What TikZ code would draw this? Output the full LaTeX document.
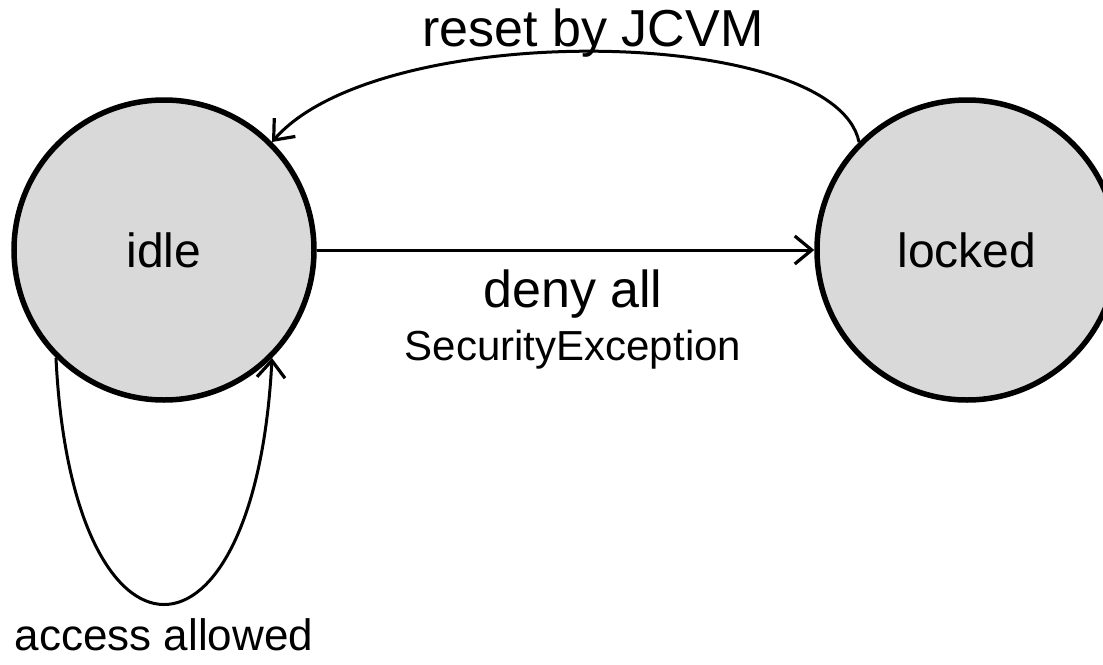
\documentclass[tikz,border=0pt]{standalone}
\usepackage{fontspec}
\setmainfont{Liberation Sans}
\usetikzlibrary{arrows.meta}
\definecolor{StateFill}{RGB}{217,217,217}
\tikzset{
  state/.style={circle,draw=black,line width=5.5pt,fill=StateFill,minimum size=300pt,inner sep=0pt,font=\fontsize{48}{52}\selectfont},
  trans/.style={-{Straight Barb[length=17pt,width=28pt,line width=3.2pt]},line width=3pt,draw=black},
  biglabel/.style={anchor=base,inner sep=0pt,font=\fontsize{52}{56}\selectfont},
  smalllabel/.style={anchor=base,inner sep=0pt,font=\fontsize{42}{46}\selectfont}
}
\begin{document}
\begin{tikzpicture}[x=1pt,y=-1pt]
\useasboundingbox (0,0) rectangle (1103,664);
\clip (0,0) rectangle (1103,664);
\node[state] (idle) at (164,250) {idle};
\node[state] (locked) at (967,250) {locked};
% transitions
\draw[trans] (idle.east) -- (locked.west);
\draw[trans] (locked.135) .. controls (835,25) and (380,18) .. (idle.45);
\draw[trans] (idle.-135) .. controls (72,686) and (255,686) .. (idle.-45);
% labels
\node[biglabel] (resetlbl) at (593,46) {reset by JCVM};
\node[biglabel] (denylbl) at (573,307) {deny all};
\node[smalllabel] (exclbl) at (573,360) {SecurityException};
\node[biglabel,font=\fontsize{44}{48}\selectfont] (accesslbl) at (164,650) {access allowed};
\end{tikzpicture}
\end{document}
